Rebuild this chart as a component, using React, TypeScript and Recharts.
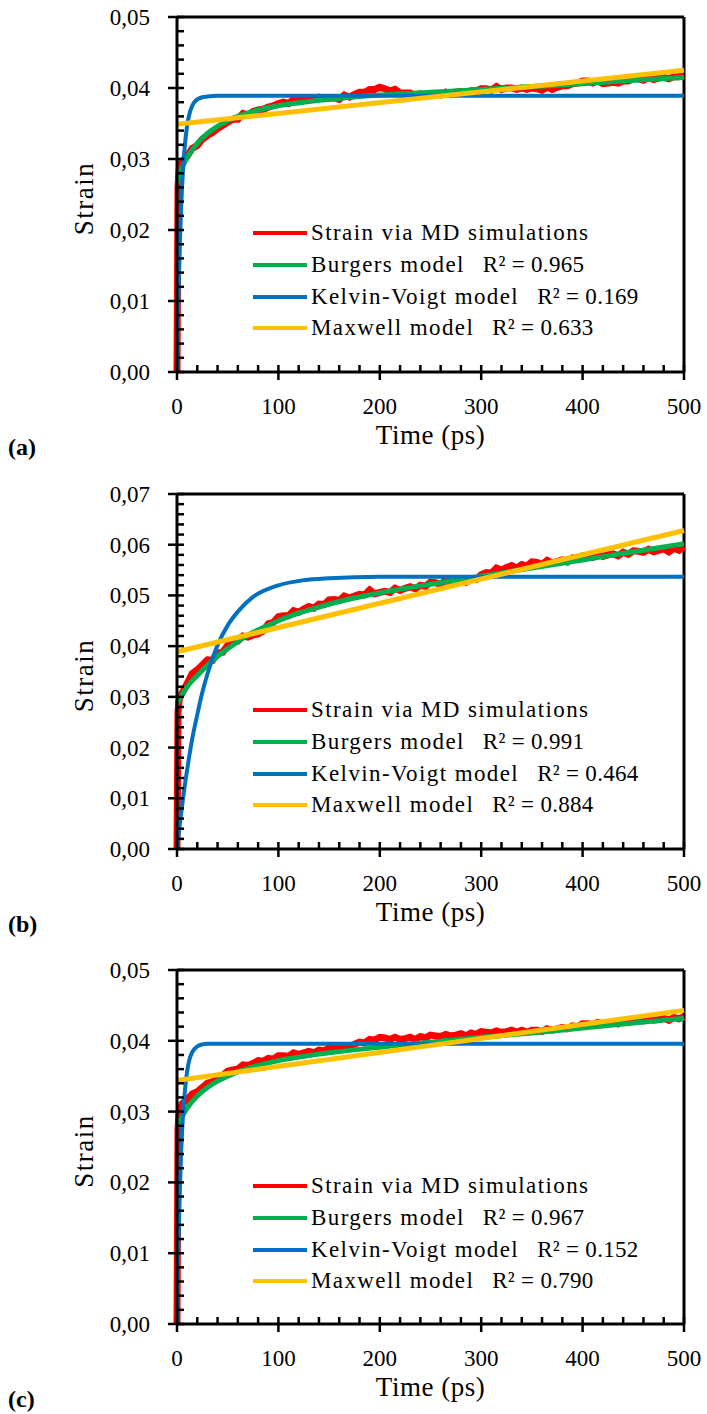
import React from "react";
import { LineChart, Line, XAxis, YAxis, ReferenceLine, Legend } from "recharts";

const FONT = '"Liberation Serif", "Times New Roman", serif';
const RED = "#FF0000";
const GREEN = "#00B050";
const BLUE = "#0070C0";
const YELLOW = "#FFC000";

const seriesNames = [
  "Strain via MD simulations",
  "Burgers model",
  "Kelvin-Voigt model",
  "Maxwell model",
];
const seriesColors = [RED, GREEN, BLUE, YELLOW];

const xTicks = [
  0, 20, 40, 60, 80, 100, 120, 140, 160, 180, 200, 220, 240, 260, 280, 300,
  320, 340, 360, 380, 400, 420, 440, 460, 480, 500,
];
const yTicks05 = [
  0, 0.002, 0.004, 0.006, 0.008, 0.01, 0.012, 0.014, 0.016, 0.018, 0.02,
  0.022, 0.024, 0.026, 0.028, 0.03, 0.032, 0.034, 0.036, 0.038, 0.04, 0.042,
  0.044, 0.046, 0.048, 0.05,
];
const yTicks07 = [
  0, 0.002, 0.004, 0.006, 0.008, 0.01, 0.012, 0.014, 0.016, 0.018, 0.02,
  0.022, 0.024, 0.026, 0.028, 0.03, 0.032, 0.034, 0.036, 0.038, 0.04, 0.042,
  0.044, 0.046, 0.048, 0.05, 0.052, 0.054, 0.056, 0.058, 0.06, 0.062, 0.064,
  0.066, 0.068, 0.07,
];

// MD strain, sampled time (ps)
const mdTimes = [
  0, 1, 2, 3,
  5, 10, 15, 20, 25, 30, 35, 40, 45, 50,
  55, 60, 65, 70, 75, 80, 85, 90, 95, 100,
  105, 110, 115, 120, 125, 130, 135, 140, 145, 150,
  155, 160, 165, 170, 175, 180, 185, 190, 195, 200,
  205, 210, 215, 220, 225, 230, 235, 240, 245, 250,
  255, 260, 265, 270, 275, 280, 285, 290, 295, 300,
  305, 310, 315, 320, 325, 330, 335, 340, 345, 350,
  355, 360, 365, 370, 375, 380, 385, 390, 395, 400,
  405, 410, 415, 420, 425, 430, 435, 440, 445, 450,
  455, 460, 465, 470, 475, 480, 485, 490, 495, 500,
];

const mdA = [
  0, 0.026, 0.0283, 0.029,
  0.0297, 0.0304, 0.0315, 0.0319, 0.0328, 0.0333, 0.0337, 0.0343, 0.0347, 0.0352,
  0.0356, 0.0356, 0.0364, 0.0362, 0.0367, 0.0369, 0.037, 0.0373, 0.0375, 0.0378,
  0.038, 0.0378, 0.0384, 0.0381, 0.0385, 0.0386, 0.0385, 0.0387, 0.0385, 0.0386,
  0.0386, 0.0384, 0.039, 0.0387, 0.0391, 0.0394, 0.0394, 0.0398, 0.0398, 0.0401,
  0.0399, 0.0396, 0.0398, 0.0393, 0.0393, 0.0393, 0.0389, 0.0392, 0.0389, 0.0392,
  0.0392, 0.039, 0.0394, 0.0391, 0.0394, 0.0395, 0.0393, 0.0396, 0.0396, 0.0399,
  0.0399, 0.0397, 0.0402, 0.0398, 0.04, 0.04, 0.0398, 0.04, 0.0398, 0.04,
  0.0399, 0.0397, 0.0401, 0.0398, 0.0401, 0.0403, 0.0403, 0.0406, 0.0407, 0.041,
  0.041, 0.0407, 0.041, 0.0406, 0.0407, 0.0408, 0.0407, 0.041, 0.041, 0.0413,
  0.0413, 0.0411, 0.0415, 0.0412, 0.0414, 0.0415, 0.0413, 0.0416, 0.0416, 0.0418,
];

const mdB = [
  0, 0.027, 0.0292, 0.03,
  0.0307, 0.0326, 0.0346, 0.0353, 0.0363, 0.0373, 0.0372, 0.0386, 0.0388, 0.0402,
  0.0407, 0.041, 0.042, 0.0418, 0.0422, 0.0424, 0.043, 0.0444, 0.0447, 0.0458,
  0.046, 0.046, 0.047, 0.0467, 0.0473, 0.0478, 0.0475, 0.0483, 0.0482, 0.0491,
  0.0492, 0.049, 0.0499, 0.0495, 0.0499, 0.0502, 0.0501, 0.0511, 0.0503, 0.0506,
  0.0508, 0.0506, 0.0514, 0.051, 0.0514, 0.0517, 0.0513, 0.052, 0.0518, 0.0526,
  0.0525, 0.0522, 0.053, 0.0525, 0.0528, 0.0531, 0.0526, 0.0532, 0.0531, 0.0541,
  0.0545, 0.0544, 0.0554, 0.055, 0.0555, 0.0559, 0.0554, 0.0561, 0.0558, 0.0566,
  0.0565, 0.0561, 0.0569, 0.0564, 0.0567, 0.057, 0.0566, 0.0574, 0.0571, 0.0578,
  0.0578, 0.0575, 0.0582, 0.0577, 0.058, 0.0582, 0.0578, 0.0585, 0.0581, 0.0588,
  0.0587, 0.0585, 0.0591, 0.0586, 0.0589, 0.0592, 0.0586, 0.0593, 0.0589, 0.0596,
];

const mdC = [
  0, 0.0275, 0.0298, 0.0305,
  0.0311, 0.0317, 0.0325, 0.0328, 0.0334, 0.034, 0.0342, 0.0349, 0.0351, 0.0357,
  0.0359, 0.036, 0.0366, 0.0365, 0.0368, 0.0372, 0.0371, 0.0375, 0.0374, 0.0379,
  0.0379, 0.0378, 0.0383, 0.0381, 0.0383, 0.0385, 0.0383, 0.0387, 0.0386, 0.039,
  0.039, 0.0389, 0.0393, 0.0392, 0.0395, 0.0398, 0.0397, 0.0402, 0.0401, 0.0405,
  0.0404, 0.0402, 0.0405, 0.0402, 0.0403, 0.0405, 0.0402, 0.0406, 0.0404, 0.0408,
  0.0407, 0.0406, 0.0409, 0.0407, 0.0408, 0.041, 0.0407, 0.0411, 0.0409, 0.0413,
  0.0412, 0.0411, 0.0414, 0.0412, 0.0413, 0.0415, 0.0412, 0.0415, 0.0412, 0.0415,
  0.0415, 0.0413, 0.0417, 0.0415, 0.0417, 0.0419, 0.0417, 0.0421, 0.042, 0.0424,
  0.0424, 0.0423, 0.0426, 0.0424, 0.0425, 0.0427, 0.0424, 0.0428, 0.0426, 0.043,
  0.0429, 0.0428, 0.0431, 0.0429, 0.043, 0.0432, 0.0429, 0.0433, 0.0431, 0.0434,
];

// Burgers fit
const burgersTimesA = [0, 2, 5, 10, 20, 30, 40, 50, 60, 75, 100, 125, 150, 200, 250, 300, 350, 400, 450, 500];
const burgersA = [0.0266, 0.0276, 0.0288, 0.0302, 0.0322, 0.0336, 0.0346, 0.0354, 0.036, 0.0367, 0.0375, 0.038, 0.0384, 0.039, 0.0394, 0.0398, 0.0402, 0.0406, 0.0411, 0.0415];

const burgersTimesB = [0, 3, 10, 20, 30, 40, 50, 60, 70, 80, 90, 100, 120, 140, 160, 180, 200, 225, 250, 275, 300, 325, 350, 375, 400, 425, 450, 475, 500];
const burgersB = [0.0286, 0.0297, 0.032, 0.0342, 0.0362, 0.038, 0.0395, 0.0409, 0.0422, 0.0432, 0.0441, 0.045, 0.0465, 0.0477, 0.0488, 0.0497, 0.0505, 0.0514, 0.0522, 0.053, 0.0538, 0.0546, 0.0554, 0.0562, 0.057, 0.0578, 0.0586, 0.0594, 0.0602];

const burgersTimesC = [0, 5, 10, 20, 30, 40, 50, 60, 75, 100, 125, 150, 200, 250, 300, 350, 400, 450, 500];
const burgersC = [0.0278, 0.0293, 0.0305, 0.0322, 0.0334, 0.0343, 0.035, 0.0356, 0.0363, 0.0372, 0.0378, 0.0383, 0.0391, 0.0398, 0.0405, 0.0411, 0.0418, 0.0425, 0.0432];

// Kelvin-Voigt fit
const kelvinTimesA = [0, 1, 2, 3, 4, 5, 6, 8, 10, 12, 15, 20, 25, 30, 40, 500];
const kelvinA = [0, 0.0077, 0.014, 0.0189, 0.0229, 0.0261, 0.0286, 0.0323, 0.0347, 0.0362, 0.0375, 0.0384, 0.0387, 0.0388, 0.0389, 0.0389];

const kelvinTimesB = [0, 3, 6, 10, 15, 20, 25, 30, 40, 50, 60, 75, 100, 125, 150, 200, 500];
const kelvinB = [0, 0.0053, 0.0101, 0.0156, 0.0217, 0.0265, 0.0309, 0.0345, 0.0402, 0.0441, 0.0468, 0.0497, 0.052, 0.053, 0.0534, 0.0537, 0.0537];

const kelvinTimesC = [0, 1, 2, 3, 4, 5, 6, 8, 10, 12, 15, 20, 25, 30, 500];
const kelvinC = [0, 0.0082, 0.0148, 0.0199, 0.024, 0.0272, 0.0297, 0.0332, 0.0357, 0.0372, 0.0384, 0.0392, 0.0395, 0.0396, 0.0396];

// Maxwell fit (straight line)
const maxwellTimes = [0, 500];
const maxwellA = [0.0349, 0.0425];
const maxwellB = [0.0389, 0.0628];
const maxwellC = [0.0344, 0.0443];

const r2A = ["", "0.965", "0.169", "0.633"];
const r2B = ["", "0.991", "0.464", "0.884"];
const r2C = ["", "0.967", "0.152", "0.790"];

const pts = (ts: number[], vs: number[]) => ts.map((t, i) => ({ t, v: vs[i] }));

const XTick = (props: any) => {
  const { x, y, payload } = props;
  const v = payload.value;
  const major = v % 100 === 0;
  return (
    <g>
      <line
        x1={x}
        x2={x}
        y1={y - 7}
        y2={major ? y + 8 : y}
        stroke="#000"
        strokeWidth={2.5}
      />
      {major && (
        <text x={x} y={y + 42} textAnchor="middle" fontFamily={FONT} fontSize={23} fill="#000">
          {v}
        </text>
      )}
    </g>
  );
};

const YTick = (props: any) => {
  const { x, y, payload } = props;
  const v = payload.value;
  const major = Math.abs(v * 100 - Math.round(v * 100)) < 1e-6;
  return (
    <g>
      <line
        x1={major ? x - 9 : x}
        x2={x + 7}
        y1={y}
        y2={y}
        stroke="#000"
        strokeWidth={2.5}
      />
      {major && (
        <text x={x - 27} y={y + 8} textAnchor="end" fontFamily={FONT} fontSize={23} fill="#000">
          {v.toFixed(2).replace(".", ",")}
        </text>
      )}
    </g>
  );
};

const LegendBox = ({ r2 }: { r2: string[] }) => (
  <div style={{ fontFamily: FONT, fontSize: 23, color: "#000" }}>
    {seriesNames.map((name, i) => (
      <div key={name} style={{ display: "flex", alignItems: "center", height: 31.7 }}>
        <span
          style={{ display: "block", width: 54, height: 4, background: seriesColors[i], marginRight: 4 }}
        />
        <span style={{ letterSpacing: 1.4, whiteSpace: "pre" }}>{name}</span>
        {r2[i] && (
          <span style={{ letterSpacing: 0.3, marginLeft: 18, whiteSpace: "pre" }}>
            R² = {r2[i]}
          </span>
        )}
      </div>
    ))}
  </div>
);

type PanelProps = {
  top: number;
  plotH: number;
  yMax: number;
  yTicks: number[];
  md: number[];
  burgers: { t: number; v: number }[];
  kelvin: { t: number; v: number }[];
  maxwell: { t: number; v: number }[];
  r2: string[];
  tag: string;
};

const W = 707;
const H = 476;
const TOP = 17;
const LEFT = 177;
const RIGHT_GAP = 23;

function Panel({ top, plotH, yMax, yTicks, md, burgers, kelvin, maxwell, r2, tag }: PanelProps) {
  const axisY = TOP + plotH;
  const mdData = pts(mdTimes, md);
  return (
    <div style={{ position: "absolute", left: 0, top, width: W, height: H }}>
      <LineChart width={W} height={H} margin={{ top: TOP, right: RIGHT_GAP, left: 0, bottom: 0 }}>
        <XAxis
          dataKey="t"
          type="number"
          domain={[0, 500]}
          ticks={xTicks}
          interval={0}
          tickSize={0}
          tickMargin={0}
          height={H - TOP - plotH}
          axisLine={{ stroke: "#000", strokeWidth: 3 }}
          tickLine={false}
          tick={<XTick />}
          label={() => (
            <g>
              <text
                x={LEFT + (W - RIGHT_GAP - LEFT) / 2}
                y={axisY + 72}
                textAnchor="middle"
                fontFamily={FONT}
                fontSize={27}
                style={{ letterSpacing: 0.5 }}
                fill="#000"
              >
                Time (ps)
              </text>
              <text x={8} y={axisY + 83} fontFamily={FONT} fontSize={24} fontWeight="bold" fill="#000">
                ({tag})
              </text>
            </g>
          )}
        />
        <YAxis
          type="number"
          domain={[0, yMax]}
          ticks={yTicks}
          interval={0}
          tickSize={0}
          tickMargin={0}
          width={LEFT}
          axisLine={{ stroke: "#000", strokeWidth: 3 }}
          tickLine={false}
          tick={<YTick />}
          label={() => (
            <text
              x={93}
              y={TOP + plotH / 2 + 4}
              transform={`rotate(-90, 93, ${TOP + plotH / 2 + 4})`}
              textAnchor="middle"
              fontFamily={FONT}
              fontSize={27}
              style={{ letterSpacing: 1.5 }}
              fill="#000"
            >
              Strain
            </text>
          )}
        />
        <ReferenceLine y={yMax} stroke="#000" strokeWidth={3} />
        <ReferenceLine x={500} stroke="#000" strokeWidth={3} />
        <Line
          data={mdData}
          dataKey="v"
          name={seriesNames[0]}
          type="linear"
          stroke={RED}
          strokeWidth={7}
          dot={false}
          activeDot={false}
          isAnimationActive={false}
        />
        <Line
          data={burgers}
          dataKey="v"
          name={seriesNames[1]}
          type="monotone"
          stroke={GREEN}
          strokeWidth={5}
          dot={false}
          activeDot={false}
          isAnimationActive={false}
        />
        <Line
          data={kelvin}
          dataKey="v"
          name={seriesNames[2]}
          type="monotone"
          stroke={BLUE}
          strokeWidth={4}
          dot={false}
          activeDot={false}
          isAnimationActive={false}
        />
        <Line
          data={maxwell}
          dataKey="v"
          name={seriesNames[3]}
          type="linear"
          stroke={YELLOW}
          strokeWidth={5}
          dot={false}
          activeDot={false}
          isAnimationActive={false}
        />
        <Legend
          layout="vertical"
          align="center"
          verticalAlign="middle"
          wrapperStyle={{ left: 253, top: 217.5, width: 430, height: 127 }}
          content={() => <LegendBox r2={r2} />}
        />
      </LineChart>
    </div>
  );
}

export default function App() {
  return (
    <div style={{ position: "absolute", left: 0, top: 0, width: W, height: 1414, background: "#fff" }}>
      <Panel
        top={0}
        plotH={355}
        yMax={0.05}
        yTicks={yTicks05}
        md={mdA}
        burgers={pts(burgersTimesA, burgersA)}
        kelvin={pts(kelvinTimesA, kelvinA)}
        maxwell={pts(maxwellTimes, maxwellA)}
        r2={r2A}
        tag="a"
      />
      <Panel
        top={477}
        plotH={355}
        yMax={0.07}
        yTicks={yTicks07}
        md={mdB}
        burgers={pts(burgersTimesB, burgersB)}
        kelvin={pts(kelvinTimesB, kelvinB)}
        maxwell={pts(maxwellTimes, maxwellB)}
        r2={r2B}
        tag="b"
      />
      <Panel
        top={953}
        plotH={354}
        yMax={0.05}
        yTicks={yTicks05}
        md={mdC}
        burgers={pts(burgersTimesC, burgersC)}
        kelvin={pts(kelvinTimesC, kelvinC)}
        maxwell={pts(maxwellTimes, maxwellC)}
        r2={r2C}
        tag="c"
      />
    </div>
  );
}
